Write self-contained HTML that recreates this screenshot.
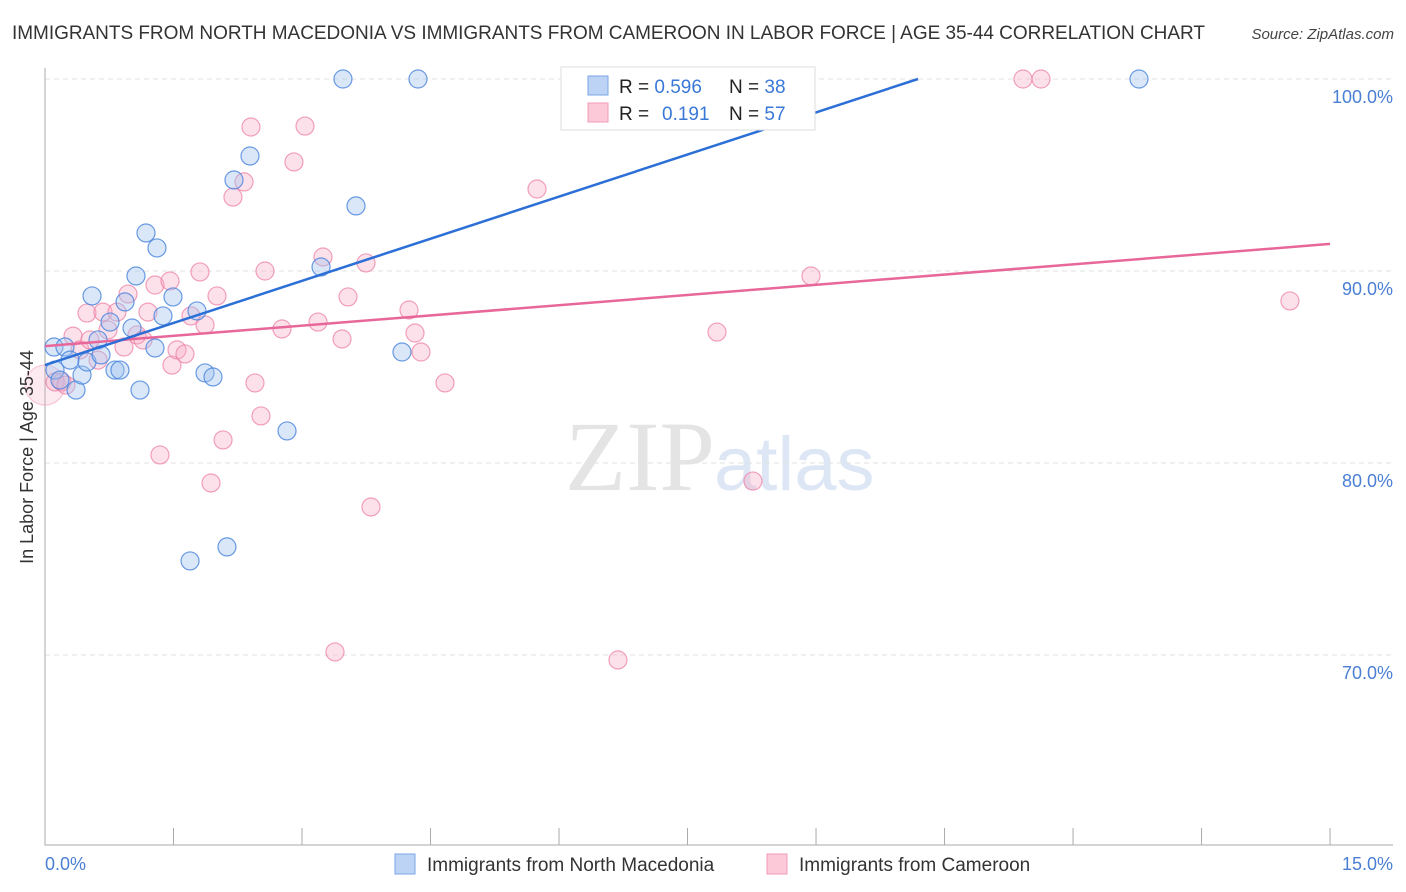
<!DOCTYPE html>
<html><head><meta charset="utf-8"><style>
body{margin:0;background:#fff;font-family:"Liberation Sans",sans-serif}
svg{display:block}
</style></head><body>
<svg id="c" width="1406" height="892">
<text x="12" y="39" font-size="19" fill="#333" textLength="1193">IMMIGRANTS FROM NORTH MACEDONIA VS IMMIGRANTS FROM CAMEROON IN LABOR FORCE | AGE 35-44 CORRELATION CHART</text>
<text x="1394" y="39" font-size="15" fill="#444" font-style="italic" text-anchor="end">Source: ZipAtlas.com</text>
<text x="715" y="490" font-size="100" fill="#e4e4e4" font-family="Liberation Serif,serif" text-anchor="end">ZIP</text>
<text x="714" y="490" font-size="76" fill="#dce6f4">atlas</text>
<g id="grid"></g><g id="marks"></g>
<text transform="translate(33,457) rotate(-90)" font-size="18" fill="#333" text-anchor="middle">In Labor Force | Age 35-44</text>
<text x="45" y="870" font-size="18" fill="#4a7fd4">0.0%</text>
<text x="1393" y="870" font-size="18" fill="#4a7fd4" text-anchor="end">15.0%</text>
<g>
<rect x="561" y="67" width="254" height="63" fill="#fff" stroke="#ddd"/>
<rect x="588" y="76" width="20" height="19" fill="#bcd3f5" stroke="#7aa5e6"/>
<rect x="588" y="103" width="20" height="19" fill="#fbc9d7" stroke="#f09ab4"/>
<text x="619" y="93" font-size="19" fill="#222">R = <tspan fill="#3a78d8">0.596</tspan><tspan x="729">N = </tspan><tspan fill="#3a78d8">38</tspan></text>
<text x="619" y="120" font-size="19" fill="#222">R = <tspan x="662" fill="#3a78d8">0.191</tspan><tspan x="729">N = </tspan><tspan fill="#3a78d8">57</tspan></text>
</g>
<g>
<rect x="395" y="854" width="20" height="20" fill="#bcd3f5" stroke="#7aa5e6"/>
<text x="427" y="871" font-size="19" fill="#333">Immigrants from North Macedonia</text>
<rect x="767" y="854" width="20" height="20" fill="#fbc9d7" stroke="#f09ab4"/>
<text x="799" y="871" font-size="19" fill="#333">Immigrants from Cameroon</text>
</g>
</svg>
<script>
const blueX=[0.105,0.233,0.117,0.292,0.362,0.432,0.49,0.549,0.619,0.654,0.759,0.817,0.875,0.934,1.016,1.062,1.109,1.179,1.284,1.307,1.377,1.494,1.774,1.868,1.961,2.206,2.393,2.825,3.222,3.478,3.630,4.167,4.354,1.693,2.124,8.077,12.77,0.175];
const blueY=[86.04,86.04,84.84,85.36,83.80,84.58,85.26,88.70,86.41,85.63,87.34,84.84,84.84,88.39,87.03,89.74,83.80,91.98,85.99,91.20,87.66,88.65,87.92,84.69,84.48,94.74,95.99,81.67,90.21,100,93.39,85.78,100,74.90,75.63,100,100,84.32];
const pinkX=[0,0.117,0.198,0.245,0.327,0.409,0.490,0.525,0.619,0.677,0.735,0.840,0.922,0.969,1.074,1.144,1.202,1.284,1.342,1.459,1.482,1.541,1.634,1.704,1.809,1.868,1.938,2.008,2.078,2.194,2.323,2.404,2.451,2.521,2.568,2.766,2.906,3.035,3.187,3.245,3.385,3.467,3.537,3.747,3.805,4.249,4.319,4.389,4.669,5.743,6.688,7.844,8.264,8.941,11.416,11.626,14.532];
const pinkY=[84.06,84.22,84.22,84.06,86.61,85.89,87.81,86.41,85.36,87.86,86.93,87.86,86.04,88.80,86.67,86.41,87.86,89.27,80.42,89.48,85.10,85.89,85.68,87.66,89.95,87.19,78.96,88.70,81.20,93.85,94.64,97.50,84.17,82.45,90.00,86.98,95.68,97.55,87.34,90.73,70.16,86.46,88.65,90.42,77.71,87.97,86.77,85.78,84.17,94.27,69.74,86.82,79.06,89.74,100,100,88.44];
const pinkR=[20];
const blueLine=[[0,85.1],[10.19,100]];
const pinkLine=[[0,86.09],[15,91.41]];
const yTicks=[100,90,80,70];
const yTickLabels=["100.0%","90.0%","80.0%","70.0%"];
const xTicks=[0,1.5,3,4.5,6,7.5,9,10.5,12,13.5,15];
const sx=v=>45+v*85.67, sy=v=>79+(100-v)*19.2;
const NS="http://www.w3.org/2000/svg";
const mk=(p,t,a)=>{const e=document.createElementNS(NS,t);for(const k in a)e.setAttribute(k,a[k]);p.appendChild(e);return e;};
const g=document.getElementById('grid'), m=document.getElementById('marks');
yTicks.forEach((t,i)=>{
 const l=mk(g,'line',{x1:45,x2:1393,y1:sy(t),y2:sy(t),stroke:'#e2e2e2','stroke-dasharray':'5,4'});
 
 
 const tx=mk(g,'text',{x:1393,y:sy(t)+24,'font-size':18,fill:'#4a7fd4','text-anchor':'end'});
 tx.textContent=yTickLabels[i];
 
 
});
const ax=mk(g,'path',{d:'M45 68V845H1393',stroke:'#aaa',fill:'none'});


xTicks.forEach(t=>{
 const l=mk(g,'line',{x1:sx(t),x2:sx(t),y1:828,y2:845,stroke:'#aaa'});
 
 
});
function pts(X,Y,fill,stroke,name){X.forEach((x,i)=>{
 const big=(name==='pink-point'&&i===0);
 const c=mk(m,'circle',{cx:sx(x),cy:sy(Y[i]),r:big?pinkR[0]:9,fill:big?'rgba(248,170,195,0.25)':fill,stroke:big?'rgba(236,130,165,0.4)':stroke,'stroke-width':1.2});
 
 
});}
pts(pinkX,pinkY,'rgba(248,170,195,0.35)','rgba(236,130,165,0.75)','pink-point');
pts(blueX,blueY,'rgba(160,195,240,0.4)','rgba(70,130,220,0.8)','blue-point');
function line(L,col,name){const l=mk(m,'line',{x1:sx(L[0][0]),y1:sy(L[0][1]),x2:sx(L[1][0]),y2:sy(L[1][1]),stroke:col,'stroke-width':2.5});
 
 }
line(pinkLine,'#e8679a','pink-trend-line');
line(blueLine,'#2c6fd6','blue-trend-line');
</script>
</body></html>
